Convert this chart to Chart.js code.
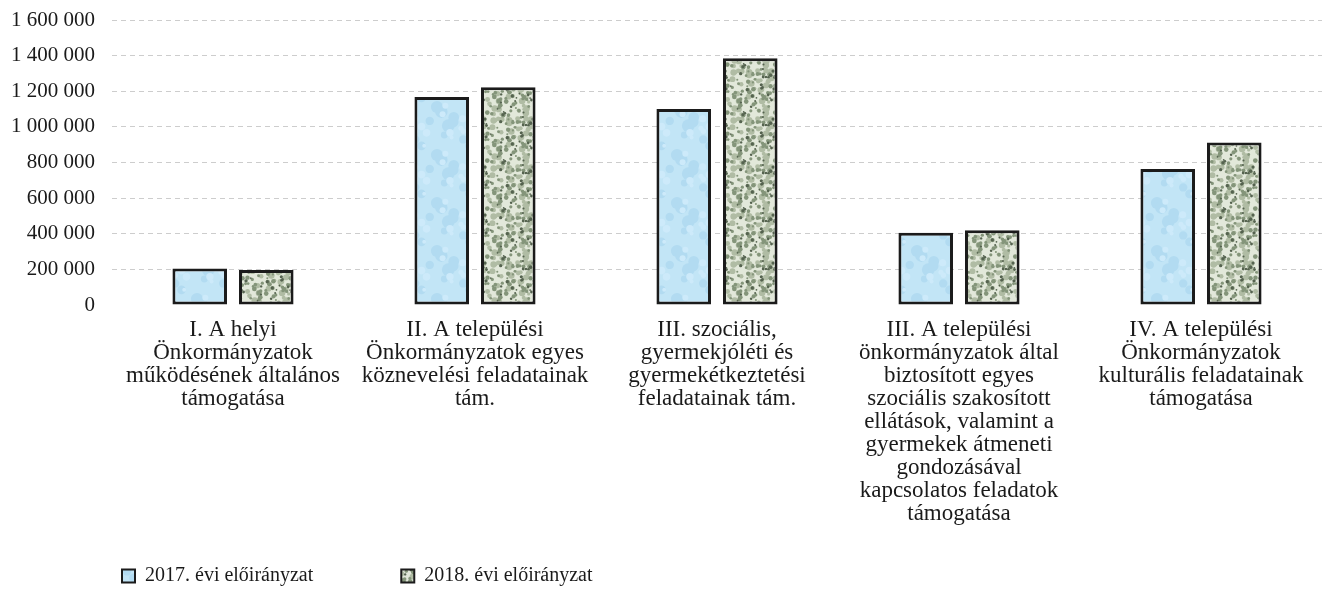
<!DOCTYPE html>
<html>
<head>
<meta charset="utf-8">
<script src="https://cdn.jsdelivr.net/npm/chart.js@4/dist/chart.umd.min.js"></script>
<style>
  html, body { margin: 0; background: #fff; }
  #wrap { width: 1326px; height: 596px; }
</style>
</head>
<body>
<div id="wrap"><canvas id="chart" width="1326" height="596"></canvas></div>
<script>
// Data
const categories = [
  ["I. A helyi", "Önkormányzatok", "működésének általános", "támogatása"],
  ["II. A települési", "Önkormányzatok egyes", "köznevelési feladatainak", "tám."],
  ["III. szociális,", "gyermekjóléti és", "gyermekétkeztetési", "feladatainak tám."],
  ["III. A települési", "önkormányzatok által", "biztosított egyes", "szociális szakosított",
   "ellátások, valamint a", "gyermekek átmeneti", "gondozásával", "kapcsolatos feladatok", "támogatása"],
  ["IV. A települési", "Önkormányzatok", "kulturális feladatainak", "támogatása"]
];
const seriesNames = ["2017. évi előirányzat", "2018. évi előirányzat"];
const values2017 = [205000, 1168000, 1101000, 406000, 763000];
const values2018 = [197000, 1222000, 1385000, 420000, 912000];
const yTicks = [0, 200000, 400000, 600000, 800000, 1000000, 1200000, 1400000, 1600000];

const FONT = "'Liberation Serif', 'Times New Roman', serif";
const TEXT = "#1a1a1a";

// Speckled fills, like the scanned bar textures
function makeTexture(base, spots, seed) {
  const size = 48;
  const c = document.createElement("canvas");
  c.width = size;
  c.height = size;
  const g = c.getContext("2d");
  g.fillStyle = base;
  g.fillRect(0, 0, size, size);
  let s = seed;
  const next = () => {
    s = (s * 9301 + 49297) % 233280;
    return s / 233280;
  };
  spots.forEach(([color, count, r]) => {
    g.fillStyle = color;
    for (let i = 0; i < count; i++) {
      const x = next() * size;
      const y = next() * size;
      const rr = r * (0.6 + next() * 0.8);
      for (const dx of [-size, 0, size]) {
        for (const dy of [-size, 0, size]) {
          g.beginPath();
          g.arc(x + dx, y + dy, rr, 0, Math.PI * 2);
          g.fill();
        }
      }
    }
  });
  return g.createPattern(c, "repeat");
}

const ctx = document.getElementById("chart").getContext("2d");
const fill2017 = makeTexture("#c2e5f6", [["#b2dbf1", 9, 5], ["#cdeafa", 10, 3]], 11);
const fill2018 = makeTexture("#e2e8da", [["#b0bca4", 45, 2.4], ["#84957a", 55, 1.7], ["#55634f", 30, 1.3]], 29);

function spaced(v) {
  return String(v).replace(/\B(?=(\d{3})+(?!\d))/g, " ");
}

// Moves the legend row to where it sits in the reference
const legendShift = {
  id: "legendShift",
  afterLayout(chart) {
    chart.legend.left += 119;
  }
};

new Chart(ctx, {
  type: "bar",
  data: {
    labels: categories,
    datasets: [
      {
        label: seriesNames[0],
        data: values2017,
        backgroundColor: fill2017,
        borderColor: "#1b1b1b",
        borderWidth: 3,
        borderSkipped: false,
        categoryPercentage: 0.55,
        barPercentage: 0.82
      },
      {
        label: seriesNames[1],
        data: values2018,
        backgroundColor: fill2018,
        borderColor: "#1b1b1b",
        borderWidth: 3,
        borderSkipped: false,
        categoryPercentage: 0.55,
        barPercentage: 0.82
      }
    ]
  },
  options: {
    responsive: false,
    animation: false,
    layout: { padding: { left: 0, right: 4, top: 20, bottom: 0 } },
    plugins: {
      tooltip: { enabled: false },
      legend: {
        position: "bottom",
        align: "start",
        labels: {
          boxWidth: 13,
          boxHeight: 13,
          padding: 3,
          color: TEXT,
          font: { family: FONT, size: 20 },
          generateLabels: (chart) => {
            const items = Chart.defaults.plugins.legend.labels.generateLabels(chart);
            items.forEach((item, i) => {
              item.lineWidth = 2;
              if (i < items.length - 1) item.text += "\u00a0".repeat(17);
            });
            return items;
          }
        }
      }
    },
    scales: {
      x: {
        grid: { display: false },
        border: { display: false },
        ticks: {
          autoSkip: false,
          maxRotation: 0,
          padding: 5,
          color: TEXT,
          font: { family: FONT, size: 23, lineHeight: 1.0 }
        },
        afterFit: (axis) => { axis.height = 258; }
      },
      y: {
        min: 0,
        max: 1600000,
        afterBuildTicks: (axis) => { axis.ticks = yTicks.map((v) => ({ value: v })); },
        grid: {
          drawTicks: false,
          color: (c) => (c.tick && c.tick.value === 0 ? "rgba(0,0,0,0)" : "#cdcdcd")
        },
        border: { display: false, dash: [5, 4] },
        ticks: {
          padding: 17,
          color: TEXT,
          font: { family: FONT, size: 21 },
          callback: (v) => spaced(v)
        },
        afterFit: (axis) => {
          axis.width = 112;
          axis.paddingTop = 0;
          axis.paddingBottom = 0;
        }
      }
    }
  },
  plugins: [legendShift]
});
</script>
</body>
</html>
